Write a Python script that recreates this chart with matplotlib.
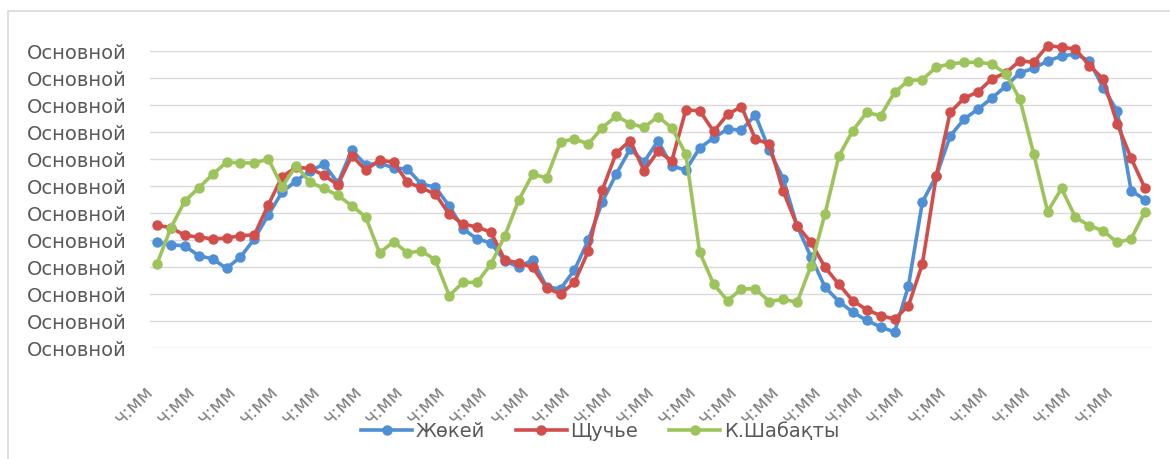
import matplotlib
matplotlib.use('Agg')
import matplotlib.pyplot as plt
import matplotlib.transforms as mtransforms
from matplotlib.patches import Rectangle

# значения в условных единицах сетки (0 = нижняя линия, 11 = верхняя)
zhokei = [3.91, 3.83, 3.78, 3.42, 3.30, 2.95, 3.37, 4.04, 4.93, 5.78,
          6.19, 6.56, 6.81, 6.11, 7.33, 6.78, 6.85, 6.67, 6.63, 6.07,
          5.96, 5.26, 4.41, 4.04, 3.89, 3.22, 3.00, 3.26, 2.26, 2.19,
          2.89, 4.00, 5.41, 6.44, 7.37, 6.89, 7.67, 6.74, 6.59, 7.41,
          7.78, 8.11, 8.07, 8.63, 7.33, 6.26, 4.52, 3.37, 2.26, 1.72,
          1.33, 1.02, 0.78, 0.59, 2.30, 5.41, 6.37, 7.85, 8.48, 8.85,
          9.26, 9.70, 10.19, 10.36, 10.63, 10.81, 10.89, 10.63, 9.63, 8.78,
          5.83, 5.49]
shchuchye = [4.54, 4.46, 4.17, 4.11, 4.04, 4.07, 4.16, 4.19, 5.30, 6.35,
             6.69, 6.65, 6.40, 6.04, 7.12, 6.59, 6.96, 6.88, 6.14, 5.93,
             5.70, 4.96, 4.59, 4.48, 4.29, 3.26, 3.15, 2.99, 2.22, 2.00,
             2.43, 3.60, 5.85, 7.22, 7.68, 6.57, 7.28, 6.94, 8.81, 8.79,
             8.02, 8.65, 8.94, 7.74, 7.56, 5.81, 4.53, 3.91, 2.99, 2.36,
             1.75, 1.42, 1.20, 1.07, 1.57, 3.11, 6.38, 8.73, 9.25, 9.49,
             9.97, 10.19, 10.64, 10.58, 11.20, 11.14, 11.07, 10.46, 9.96, 8.30,
             7.03, 5.91]
shabakty = [3.11, 4.45, 5.44, 5.93, 6.43, 6.88, 6.86, 6.85, 7.00, 5.98,
            6.75, 6.14, 5.91, 5.65, 5.27, 4.85, 3.52, 3.94, 3.52, 3.60,
            3.26, 1.94, 2.43, 2.43, 3.11, 4.16, 5.48, 6.44, 6.30, 7.64,
            7.74, 7.56, 8.16, 8.59, 8.31, 8.17, 8.57, 8.15, 7.19, 3.54,
            2.37, 1.75, 2.19, 2.19, 1.72, 1.81, 1.69, 3.05, 4.96, 7.11,
            8.05, 8.73, 8.60, 9.47, 9.90, 9.94, 10.40, 10.52, 10.58, 10.58,
            10.52, 10.15, 9.22, 7.19, 5.05, 5.91, 4.84, 4.53, 4.34, 3.91,
            4.04, 5.05]
series_names = ['Жөкей', 'Щучье', 'К.Шабақты']
series_colors = ['#4f8fd6', '#d24e4a', '#9cc45b']
y_label = 'Основной'
x_label = 'ч:мм'

W, H = 1170, 460
fig = plt.figure(figsize=(W / 100, H / 100), dpi=100)
fig.patches.append(Rectangle((8 / W, -0.01), 1.02, 1 - 12 / H + 0.01, transform=fig.transFigure,
                             fill=False, edgecolor='#d9d9d9', lw=1.2))

ax = fig.add_axes([150 / W, 1 - 349 / H, (1152 - 150) / W, 297 / H])
n = len(zhokei)
x = list(range(n))
for vals, name, col in zip([zhokei, shchuchye, shabakty], series_names, series_colors):
    ax.plot(x, vals, color=col, lw=2.6, marker='o', markersize=6.5, label=name, clip_on=False)

ax.set_xlim(-0.5, n - 0.5)
ax.set_ylim(0, 11)
ax.set_yticks(range(12))
ax.set_yticklabels([y_label] * 12, fontsize=14, color='#595959')
ax.set_xticks(range(0, n, 3))
ax.set_xticklabels([x_label] * len(range(0, n, 3)), fontsize=13.5, color='#7f7f7f',
                   rotation=45, ha='right')
offset = mtransforms.ScaledTranslation(5 / 100, 0, fig.dpi_scale_trans)
for lbl in ax.get_xticklabels():
    lbl.set_transform(lbl.get_transform() + offset)
ax.tick_params(axis='y', length=0, pad=17)
ax.tick_params(axis='x', length=0, pad=24)
ax.grid(axis='y', color='#d9d9d9', lw=1)
ax.set_axisbelow(True)
for s in ax.spines.values():
    s.set_visible(False)

fig.legend(loc='center', bbox_to_anchor=(0.513, 1 - 432 / H), ncol=3, frameon=False,
           fontsize=14, labelcolor='#595959', handlelength=2.6, handletextpad=0.2,
           columnspacing=1.6)

fig.savefig('out.png', dpi=100)
